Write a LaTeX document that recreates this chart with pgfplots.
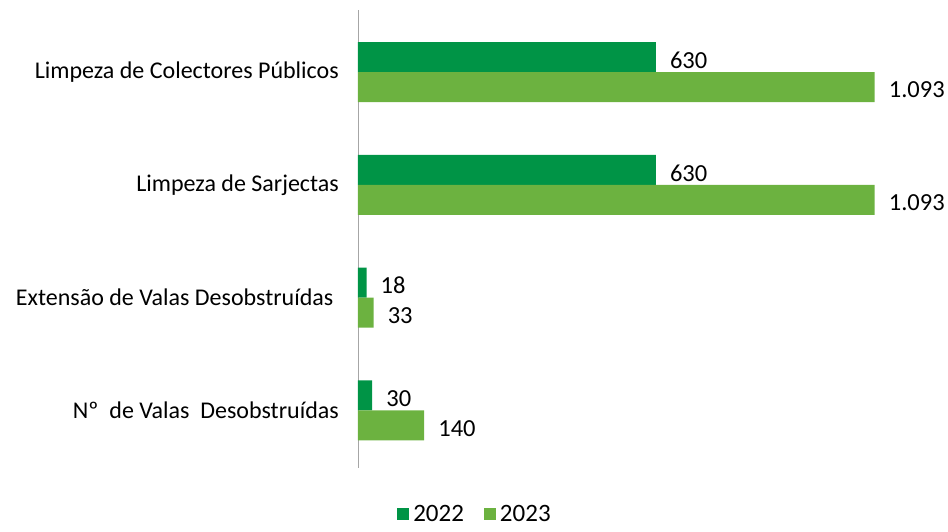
\documentclass[border=0pt]{standalone}
\usepackage{pgfplots}
\pgfplotsset{compat=1.18}
\usepackage{fontspec}
\setmainfont{Carlito}
\definecolor{g22}{RGB}{0,148,70}
\definecolor{g23}{RGB}{108,178,64}
\begin{document}
\begin{tikzpicture}
\path[use as bounding box] (-358pt,-64pt) rectangle (590pt,468pt);
\begin{axis}[
  at={(0,0)}, anchor=south west,
  scale only axis,
  width=520pt, height=458pt,
  xmin=0, xmax=1100,
  ymin=-0.51, ymax=3.55,
  hide x axis,
  axis y line*=left,
  y axis line style={-, draw=gray!70, line width=0.8pt},
  ytick={0,1,2,3},
  yticklabels={Nº\ \ de Valas\ \ Desobstruídas, Extensão de Valas Desobstruídas\ \ , Limpeza de Sarjectas, Limpeza de Colectores Públicos},
  major tick length=0pt,
  yticklabel style={font=\fontsize{24}{28}\selectfont, anchor=east, inner sep=0pt, xshift=-19pt},
  xbar, bar width=30pt,
  nodes near coords={\pgfmathprintnumber[1000 sep={.}, assume math mode=true]{\pgfplotspointmeta}},
  point meta=x,
  every node near coord/.append style={font=\fontsize{24.5}{29}\selectfont, anchor=west, inner sep=0pt, xshift=14pt, yshift=-3pt, text=black},
  legend style={draw=none, at={(0.225,-0.1)}, anchor=center, inner sep=1pt, font=\fontsize{25}{29}\selectfont, legend columns=2, /tikz/every even column/.append style={column sep=18pt}, /tikz/every odd column/.append style={column sep=2pt}},
  legend image code/.code={\fill[#1,draw=none] (0pt,-6pt) rectangle (12pt,6pt);},
]
\addplot[fill=g22, draw=none, bar shift=15pt] coordinates {(630,3) (630,2) (18,1) (30,0)};
\addplot[fill=g23, draw=none, bar shift=-15pt] coordinates {(1093,3) (1093,2) (33,1) (140,0)};
\legend{2022,2023}
\end{axis}
\end{tikzpicture}
\end{document}
